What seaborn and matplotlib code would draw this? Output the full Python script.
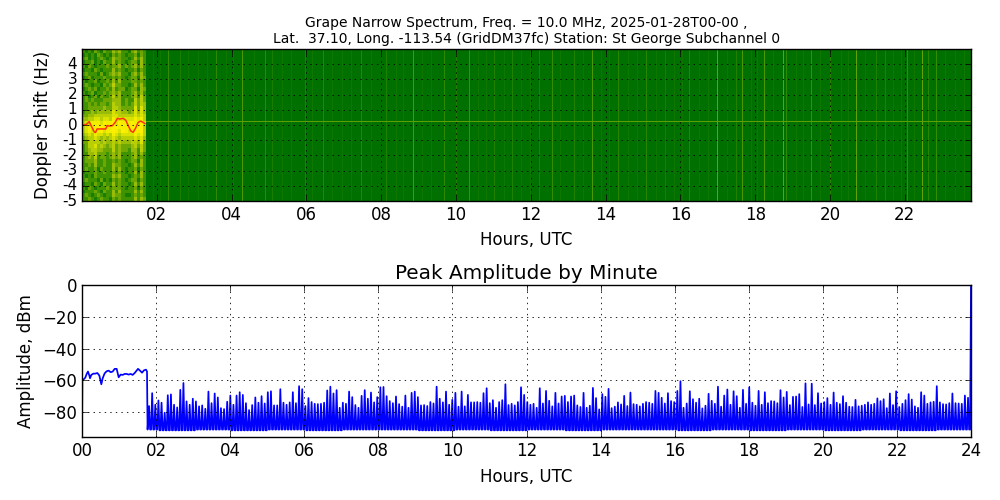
import numpy as np
import matplotlib
matplotlib.use("Agg")
import matplotlib.pyplot as plt
from matplotlib.colors import LinearSegmentedColormap
import seaborn as sns

title_top = "Grape Narrow Spectrum, Freq. = 10.0 MHz, 2025-01-28T00-00 ,\nLat.  37.10, Long. -113.54 (GridDM37fc) Station: St George Subchannel 0"
title_bottom = "Peak Amplitude by Minute"

# amplitude before the step (hours, dBm)
pre_hours = [0.0, 0.01, .054, .09, .126, .162, .198, .216, .252, .306, .36, .414, .468, .522, .558, .612, .666, .72,
             .774, .828, .882, .936, .99, 1.044, 1.098, 1.152, 1.206, 1.26, 1.314, 1.368, 1.422, 1.476,
             1.512, 1.566, 1.62, 1.674, 1.728, 1.755]
pre_db = [-92, -60, -59.2, -58.3, -56, -54.5, -57, -58.7, -56.6, -55.8, -55.8, -55.4, -57, -62.5, -58.7, -55.6, -54.3, -53.9,
          -54.9, -54.5, -52.8, -52.8, -58.1, -56.4, -56.6, -56, -56, -56.4, -56, -56.6, -55.4, -53.9,
          -52.8, -53.9, -55.2, -53.7, -53.3, -54.5]

# peak of each five-minute cycle after the step
peaks_a = [-76.2, -68.1, -75.4, -72.7, -74.1, -80.4, -69.4, -68.9, -75.4, -77.1, -66, -61.7, -73.3, -75.4, -71.6, -73.3,
           -76.4, -75.8, -77.9, -67.1, -74.4, -68.3, -70.8, -77.5, -78.1, -73.5, -69.6, -75.4, -69.6, -67.5, -69.2, -74.4,
           -78.7, -75.6, -70.8, -74.1, -70, -74.6, -67.5, -66.9, -75.8, -75.8, -65.6, -74.1, -75.4, -73.9, -67.5]
peaks_b = [-74.4, -63.7, -65.6, -76.2, -71.2, -73.7, -74.8, -75, -74.8, -74.1, -66.4, -64, -68.3, -66.2, -77.3, -74.1,
           -74.8, -67.1, -70.6, -75.6, -77.3, -69.8, -66.2, -71.6, -67.7, -73.9, -70.6, -64.4, -64.2, -70, -73.1, -74.4,
           -70.2, -75, -76.6, -69.6, -77.3, -67.9, -67.1, -70.6, -75.8, -75.6, -76.2, -73.7, -74.6, -64, -71.6, -73.9]
peaks_c = [-67.1, -75.4, -72.3, -67.9, -76.6, -67.1, -76.4, -69.2, -73.9, -73.9, -73.7, -74.1, -68.1, -65, -74.4, -72.5,
           -77.3, -73.7, -72.5, -62.5, -75.6, -74.8, -75.8, -73.7, -64.4, -69.2, -73.7, -75.4, -74.8, -77.3, -65, -74.6,
           -66.7, -72.9, -76.4, -67.9, -74.6, -70.2, -69.8, -73.7, -70.2, -69.6, -75.8, -76.8, -67.9, -77.3, -76, -64.8]
peaks_d = [-71.2, -78.3, -68.7, -70.4, -65.4, -77.5, -76.6, -73.9, -75.2, -69.8, -76.2, -67.7, -75, -75.4, -76.4, -74.8,
           -73.7, -74.1, -74.8, -66.7, -67.9, -71, -74.6, -68.1, -73.1, -73.7, -66.7, -60.6, -77.3, -74.6, -66.9, -71.9,
           -74.1, -71.6, -77.7, -76, -68.5, -72.9, -74.8, -64, -76.6, -69.6, -65.8, -75.4, -66.9, -70, -77.3, -66]
peaks_e = [-74.8, -64.4, -74.1, -76, -66.7, -75.4, -67.5, -74.4, -73.1, -73.3, -74.4, -66.2, -70.8, -67.3, -75.6, -70.4,
           -70.2, -68.7, -76.8, -61.9, -75.2, -62.1, -75.6, -68.1, -74.6, -73.7, -71.2, -75.4, -67.7, -74.1, -75, -70,
           -74.1, -76.6, -76.8, -72.3, -76.4, -76, -75.4, -73.9, -75.4, -74.8, -71.4, -73.1, -71.9, -77.5, -68.3, -75.6]
peaks_f = [-66.9, -76.8, -74.8, -72.5, -68.7, -72.1, -76.4, -77.3, -67.5, -69.6, -74.8, -73.9, -73.5, -63.7, -73.9, -75,
           -75.2, -74.4, -68.3, -74.4, -74.6, -74.8, -69.6, -71]
# lowest level reached between the peaks, hour by hour
trough_by_hour = [-91, -91, -91.5, -91, -91.5, -91, -91.5, -91, -91, -91.5, -91, -91.5,
                  -91, -91.5, -91, -91, -91.5, -91, -91.5, -91, -91.5, -91, -91.5, -91]
first_peak_hour, last_peak_hour = 1.81, 23.92

# spectrogram, first part: levels 0-9, columns in time, rows from +5 Hz down to -5 Hz
early_rows = [
    "323243243354533245343", "232324323243432334243", "342323432354433235353", "233423243353432344253",
    "324323334344534345353", "233243233353432334243", "343332423454533245353", "234233343343432344254",
    "323342334353533344343", "343233243464433235353", "234342334353442344254", "323423343454533345353",
    "342342433464533345364", "343433344455534336464", "334343443465534346465", "334444454466544447475",
    "344545555576655457575", "445566666677666667676", "556677677687777778786", "677888798897988898897",
    "678889988899888989996", "678788978898798789896", "567687767687677778786", "456676565676566667675",
    "446666565565655566574", "346675654564544456464", "345665544464544355364", "335564443454533345353",
    "345463443454533345343", "344453343343432344253", "334353343354433235353", "343342433353532334243",
    "233343343343432335253", "323243333354533234353", "343332423243432344243", "233243243353433235353",
    "324323334344432334243", "233343243353533335353", "343234323354432234343", "334323433243433335354",
]
# spectrogram, later part
band_level = 0.145
band_hour_start, band_hour_end = 1.706, 23.77
stripe_hours = [2.3, 2.64, 3.6, 4.3, 4.89, 5.1, 5.98, 6.44, 7.48, 8.15, 8.87, 9.7, 10.0, 10.37, 11.03, 11.52,
                12.24, 12.59, 13.17, 13.66, 14.33, 15.08, 15.59, 16.25, 17.0, 17.51, 17.67, 18.25, 18.76, 18.84,
                19.5, 20.02, 20.7, 21.24, 21.47, 22.08, 22.46, 22.62, 22.86]
stripe_levels = [.3, .22, .28, .36, .28, .22, .24, .26, .26, .24, .36, .28, .24, .32, .24, .24,
                 .24, .3, .24, .36, .26, .26, .22, .26, .42, .24, .36, .36, .42, .28,
                 .32, .26, .42, .24, .24, .3, .42, .26, .3]
faint_hours = [1.9, 2.1, 2.85, 3.1, 3.35, 3.85, 4.05, 4.6, 5.35, 5.6, 6.15, 6.7, 6.95, 7.2, 7.75, 8.4, 8.6, 9.1, 9.35,
               10.6, 10.8, 11.3, 11.75, 12.0, 12.8, 13.4, 13.9, 14.1, 14.6, 14.85, 15.35, 15.85, 16.05, 16.5, 16.75,
               17.25, 17.9, 18.05, 18.5, 19.1, 19.3, 19.75, 20.3, 20.5, 20.95, 21.7, 21.9, 22.25, 23.1, 23.35, 23.6]
faint_level = 0.185
carrier_hz = 0.2
carrier_level = 0.4

# tracked doppler peak
track_hours = [.03, .119, .191, .253, .324, .36, .405, .476, .565, .636, .672, .743, .815, .885, .949, 1.01, 1.1,
               1.171, 1.233, 1.305, 1.367, 1.43, 1.5, 1.572, 1.634, 1.687]
track_hz = [0, .04, .22, -.09, -.44, -.5, -.26, -.26, -.26, -.26, -.04, -.07, -.04, .17, .44, .39, .44,
            .31, -.02, -.39, -.48, -.22, .17, .26, .17, .09]

sns.set_theme(style="white", rc={
    "font.family": "DejaVu Sans", "axes.edgecolor": "black", "axes.linewidth": 1.0,
    "xtick.direction": "in", "ytick.direction": "in", "xtick.top": True, "ytick.right": True,
    "xtick.bottom": True, "ytick.left": True, "xtick.major.size": 4, "ytick.major.size": 4,
    "xtick.major.width": 0.5, "ytick.major.width": 0.5, "xtick.labelsize": 12, "ytick.labelsize": 12,
    "axes.labelsize": 12, "text.color": "black", "axes.labelcolor": "black",
    "xtick.color": "black", "ytick.color": "black", "lines.scale_dashes": False,
    "ytick.alignment": "center",
})

fig = plt.figure(figsize=(10, 5), dpi=100)
ax1 = fig.add_axes([0.082, 1 - 201 / 500, 0.889, 152 / 500])
with plt.rc_context({"ytick.alignment": "center_baseline"}):
    ax2 = fig.add_axes([0.082, 1 - 437 / 500, 0.889, 152 / 500])

    cmap = LinearSegmentedColormap.from_list("grape", [(0, "#005800"), (.145, "#007000"), (.33, "#3f9200"), (.55, "#96bb08"),
                                                       (.85, "#eeee00"), (1, "#ffee00")])
    early = np.array([[int(c) for c in row] for row in early_rows]) / 9
    ax1.pcolormesh(np.linspace(0, band_hour_start, early.shape[1] + 1), np.linspace(5, -5, early.shape[0] + 1),
                   early, cmap=cmap, vmin=0, vmax=1, shading="flat")

    n_cols, n_rows = 825, 152
    late = np.full((n_rows, n_cols), band_level)
    x_edges = np.linspace(band_hour_start, band_hour_end, n_cols + 1)
    y_edges = np.linspace(-5, 5, n_rows + 1)
    for h in faint_hours:
        late[:, np.searchsorted(x_edges, h) - 1] = faint_level
    for h, lev in zip(stripe_hours, stripe_levels):
        late[:, np.searchsorted(x_edges, h) - 1] = lev
    late[np.searchsorted(y_edges, carrier_hz) - 1, :] = carrier_level
    ax1.pcolormesh(x_edges, y_edges, late, cmap=cmap, vmin=0, vmax=1, shading="flat")

    sns.lineplot(x=track_hours, y=track_hz, sort=False, estimator=None, color="#ff3010", lw=1.1, ax=ax1)

    peaks = peaks_a + peaks_b + peaks_c + peaks_d + peaks_e + peaks_f
    peak_hours = np.linspace(first_peak_hour, last_peak_hour, len(peaks))
    step = peak_hours[1] - peak_hours[0]
    amp_x, amp_y = list(pre_hours) + [1.77], list(pre_db) + [-91.0]
    for h, p in zip(peak_hours, peaks):
        low = trough_by_hour[int(h)]
        amp_x += [h, h + step * 0.34, h + step * 0.66]
        amp_y += [p, low, low]
    amp_x += [24.0]
    amp_y += [0.0]
    sns.lineplot(x=amp_x, y=amp_y, sort=False, estimator=None, color="#0000ff", lw=1.25, ax=ax2)

    ax2.set_xlim(0, 24)
    ax2.set_ylim(-95.7, 0)
    ax2.set_xticks(range(0, 25, 2))
    ax2.set_xticklabels([f"{h:02d}" for h in range(0, 25, 2)])
    ax2.set_yticks(range(-80, 1, 20))
    ax2.set_xlabel("Hours, UTC", labelpad=5.5)
    ax2.set_ylabel("Amplitude, dBm")
    ax2.yaxis.set_label_coords(-0.053, 0.5)
    ax2.set_title(title_bottom, fontsize=14.4, pad=4)

dot = (0, (1, 3))
ax1.set_xlim(0, band_hour_end)
ax1.set_ylim(-5, 5)
ax1.set_xticks(range(2, 23, 2))
ax1.set_xticklabels([f"{h:02d}" for h in range(2, 23, 2)])
ax1.set_yticks(range(-5, 5))
ax1.set_yticklabels([str(v) for v in range(-5, 5)], fontsize=11)
ax1.set_xlabel("Hours, UTC", labelpad=5)
ax1.set_ylabel("Doppler Shift (Hz)")
ax1.yaxis.set_label_coords(-0.034, 0.5)
ax1.set_title(title_top, fontsize=10, pad=4, linespacing=1.25)

for ax in (ax1, ax2):
    ax.set_axisbelow(False)
    ax.grid(True, color="black", linestyle=dot, linewidth=0.6)

fig.savefig("out.png", dpi=100)
